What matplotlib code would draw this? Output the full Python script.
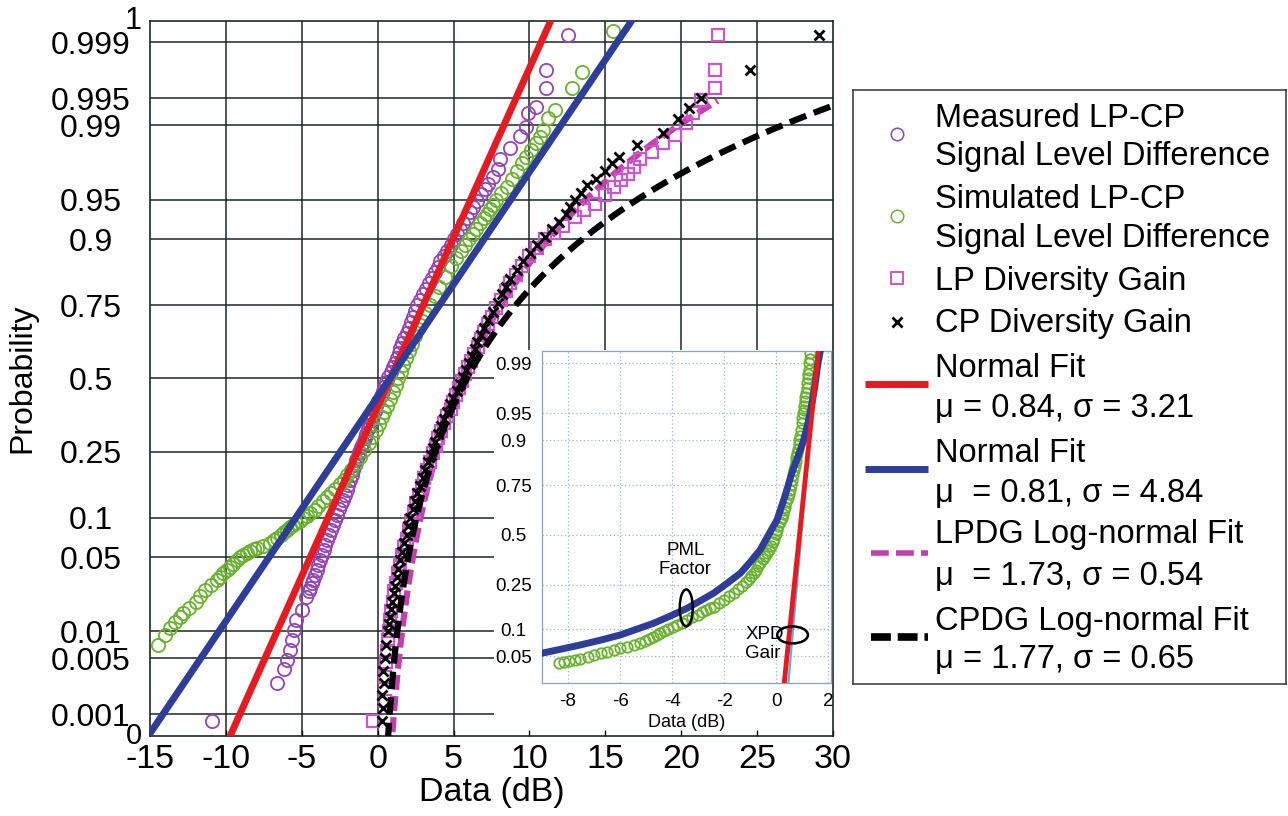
import numpy as np
import matplotlib
matplotlib.use("Agg")
import matplotlib.pyplot as plt
from matplotlib.patches import Ellipse, Rectangle
from matplotlib.transforms import blended_transform_factory
from statistics import NormalDist

plt.rcParams["font.family"] = ["Liberation Sans", "DejaVu Sans"]
plt.rcParams["axes.unicode_minus"] = False

# ---------------- data ----------------
prob_ticks = [0.001, 0.005, 0.01, 0.05, 0.1, 0.25, 0.5, 0.75, 0.9, 0.95, 0.99, 0.995, 0.999]
prob_tick_labels = ["0.001", "0.005", "0.01", "0.05", "0.1", "0.25", "0.5",
                    "0.75", "0.9", "0.95", "0.99", "0.995", "0.999"]
x_ticks = [-15, -10, -5, 0, 5, 10, 15, 20, 25, 30]

# measured LP-CP signal level difference (purple circles)
meas_p = [0.0008, 0.0025, 0.0037, 0.0048, 0.0062, 0.008, 0.0103, 0.013, 0.0165, 0.022,
          0.025, 0.027, 0.03, 0.032, 0.035, 0.039, 0.043, 0.047, 0.052, 0.057,
          0.063, 0.069, 0.075, 0.082, 0.089, 0.097, 0.105, 0.114, 0.123, 0.132,
          0.142, 0.153, 0.164, 0.176, 0.188, 0.2, 0.212, 0.225, 0.237, 0.25,
          0.263, 0.277, 0.291, 0.305, 0.32, 0.335, 0.35, 0.365, 0.382, 0.4,
          0.417, 0.435, 0.452, 0.47, 0.487, 0.505, 0.522, 0.54, 0.557, 0.575,
          0.592, 0.61, 0.627, 0.645, 0.662, 0.68, 0.697, 0.715, 0.732, 0.75,
          0.765, 0.78, 0.795, 0.81, 0.823, 0.835, 0.848, 0.86, 0.87, 0.88,
          0.89, 0.9, 0.908, 0.915, 0.923, 0.93, 0.937, 0.943, 0.949, 0.955,
          0.959, 0.963, 0.968, 0.973, 0.978, 0.983, 0.987, 0.9896, 0.9926, 0.9938,
          0.9962, 0.9977, 0.9992]
meas_x = [-10.9, -6.65, -6.2, -6.0, -5.8, -5.65, -5.5, -5.35, -5.0, -4.7,
          -4.55, -4.45, -4.35, -4.25, -4.12, -4.0, -3.9, -3.8, -3.67, -3.55,
          -3.45, -3.35, -3.2, -3.05, -2.92, -2.8, -2.68, -2.55, -2.42, -2.3,
          -2.18, -2.05, -1.95, -1.85, -1.72, -1.6, -1.5, -1.4, -1.3, -1.2,
          -1.08, -0.95, -0.85, -0.75, -0.62, -0.5, -0.4, -0.3, -0.2, -0.1,
          0.05, 0.2, 0.32, 0.45, 0.58, 0.7, 0.85, 1.0, 1.12, 1.25,
          1.38, 1.5, 1.62, 1.75, 1.9, 2.05, 2.2, 2.35, 2.48, 2.6,
          2.8, 3.0, 3.2, 3.4, 3.6, 3.8, 3.95, 4.1, 4.35, 4.6,
          4.8, 5.0, 5.2, 5.4, 5.65, 5.9, 6.1, 6.3, 6.55, 6.8,
          7.05, 7.3, 7.6, 7.9, 8.05, 8.7, 9.35, 9.8, 9.9, 10.45,
          11.1, 11.1, 12.55]

# simulated LP-CP signal level difference (green circles)
sim_p = [0.0071, 0.0091, 0.0108, 0.0126, 0.014, 0.0153, 0.0175, 0.0199, 0.0228, 0.0257,
         0.0285, 0.0318, 0.034, 0.0365, 0.039, 0.0415, 0.044, 0.047, 0.05, 0.052,
         0.054, 0.056, 0.058, 0.059, 0.061, 0.0645, 0.068, 0.071, 0.075, 0.079,
         0.082, 0.085, 0.088, 0.091, 0.095, 0.099, 0.103, 0.107, 0.113, 0.12,
         0.129, 0.138, 0.146, 0.155, 0.165, 0.175, 0.187, 0.2, 0.218, 0.236,
         0.255, 0.275, 0.296, 0.317, 0.338, 0.36, 0.38, 0.4, 0.425, 0.45,
         0.475, 0.5, 0.525, 0.55, 0.575, 0.6, 0.625, 0.65, 0.675, 0.7,
         0.725, 0.75, 0.775, 0.8, 0.825, 0.85, 0.865, 0.88, 0.89, 0.9,
         0.908, 0.915, 0.923, 0.93, 0.935, 0.94, 0.945, 0.95, 0.956, 0.961,
         0.967, 0.972, 0.976, 0.979, 0.982, 0.9847, 0.9868, 0.9888, 0.9916, 0.9932,
         0.9962, 0.9976, 0.9993]
sim_x = [-14.45, -14.0, -13.7, -13.35, -13.05, -12.8, -12.4, -12.0, -11.7, -11.4,
         -11.0, -10.6, -10.4, -10.2, -9.95, -9.75, -9.5, -9.3, -9.05, -8.85,
         -8.6, -8.4, -8.15, -7.95, -7.55, -7.1, -6.85, -6.65, -6.4, -6.2,
         -5.95, -5.75, -5.55, -5.35, -5.1, -4.9, -4.65, -4.45, -4.15, -3.9,
         -3.6, -3.35, -3.05, -2.8, -2.5, -2.25, -2.0, -1.75, -1.45, -1.15,
         -0.88, -0.6, -0.35, -0.1, 0.1, 0.3, 0.45, 0.6, 0.8, 1.0,
         1.18, 1.35, 1.52, 1.7, 1.88, 2.05, 2.25, 2.45, 2.68, 2.9,
         3.15, 3.45, 3.75, 4.05, 4.45, 4.85, 5.15, 5.5, 5.75, 6.0,
         6.25, 6.5, 6.75, 7.0, 7.2, 7.4, 7.6, 7.8, 8.15, 8.5,
         8.85, 9.15, 9.5, 9.8, 10.1, 10.45, 10.7, 10.9, 11.25, 11.7,
         12.8, 13.45, 15.5]

# LP diversity gain (magenta squares)
lp_p = [0.0008, 0.0015, 0.003, 0.0045, 0.006, 0.008, 0.01, 0.013, 0.016, 0.02,
        0.025, 0.03, 0.037, 0.044, 0.052, 0.06, 0.07, 0.082, 0.095, 0.11,
        0.125, 0.142, 0.16, 0.18, 0.2, 0.222, 0.245, 0.267, 0.29, 0.315,
        0.34, 0.365, 0.39, 0.415, 0.44, 0.465, 0.49, 0.515, 0.54, 0.565,
        0.59, 0.615, 0.64, 0.665, 0.69, 0.715, 0.74, 0.765, 0.79, 0.81,
        0.83, 0.85, 0.87, 0.885, 0.9, 0.91, 0.92, 0.931, 0.939, 0.946,
        0.954, 0.961, 0.966, 0.97, 0.974, 0.978, 0.9815, 0.9847, 0.9874, 0.9905,
        0.9926, 0.9948, 0.9962, 0.9977, 0.9992]
lp_x = [-0.3, 0.5, 0.5, 0.55, 0.6, 0.68, 0.75, 0.82, 0.9, 1.0,
        1.1, 1.22, 1.35, 1.47, 1.6, 1.75, 1.9, 2.05, 2.2, 2.38,
        2.55, 2.72, 2.9, 3.08, 3.25, 3.45, 3.65, 3.82, 4.0, 4.2,
        4.4, 4.6, 4.8, 4.98, 5.15, 5.35, 5.55, 5.75, 5.95, 6.15,
        6.35, 6.58, 6.8, 7.02, 7.25, 7.5, 7.8, 8.1, 8.45, 8.75,
        9.1, 9.5, 10.0, 10.5, 11.0, 11.6, 12.2, 13.0, 13.6, 14.3,
        14.95, 15.6, 16.05, 16.5, 16.9, 17.3, 18.1, 18.8, 19.6, 20.3,
        20.8, 21.3, 22.2, 22.2, 22.4]

# CP diversity gain (black crosses)
cp_p = [0.0008, 0.0012, 0.0018, 0.0025, 0.0035, 0.005, 0.007, 0.01, 0.012, 0.014,
        0.017, 0.02, 0.024, 0.028, 0.034, 0.04, 0.047, 0.055, 0.065, 0.075,
        0.087, 0.1, 0.115, 0.13, 0.145, 0.16, 0.18, 0.2, 0.22, 0.24,
        0.26, 0.28, 0.305, 0.33, 0.355, 0.38, 0.405, 0.43, 0.455, 0.48,
        0.505, 0.53, 0.555, 0.58, 0.605, 0.63, 0.655, 0.68, 0.705, 0.73,
        0.755, 0.78, 0.8, 0.82, 0.84, 0.86, 0.875, 0.89, 0.903, 0.915,
        0.925, 0.935, 0.943, 0.95, 0.956, 0.962, 0.967, 0.972, 0.976, 0.979,
        0.984, 0.988, 0.9915, 0.9935, 0.995, 0.9977, 0.9992]
cp_x = [0.3, 0.35, 0.3, 0.4, 0.35, 0.5, 0.55, 0.7, 0.75, 0.8,
        0.88, 0.95, 1.05, 1.15, 1.25, 1.35, 1.48, 1.6, 1.75, 1.9,
        2.02, 2.15, 2.3, 2.45, 2.62, 2.8, 2.98, 3.15, 3.32, 3.5,
        3.65, 3.8, 4.0, 4.2, 4.4, 4.6, 4.78, 4.95, 5.2, 5.45,
        5.62, 5.8, 6.0, 6.2, 6.38, 6.55, 6.78, 7.0, 7.3, 7.6,
        7.9, 8.2, 8.47, 8.75, 9.15, 9.6, 10.05, 10.5, 11.0, 11.5,
        11.95, 12.4, 12.7, 13.0, 13.4, 13.8, 14.4, 15.0, 15.45, 15.9,
        17.1, 18.8, 19.8, 20.5, 21.3, 24.5, 29.1]

# fitted distributions (from the legend)
meas_mu, meas_sigma = 0.84, 3.21
sim_mu, sim_sigma = 0.81, 4.84
lpdg_mu, lpdg_sigma = 1.73, 0.54
cpdg_mu, cpdg_sigma = 1.77, 0.65

# inset
inset_prob_ticks = [0.05, 0.1, 0.25, 0.5, 0.75, 0.9, 0.95, 0.99]
inset_prob_labels = ["0.05", "0.1", "0.25", "0.5", "0.75", "0.9", "0.95", "0.99"]
inset_x_ticks = [-8, -6, -4, -2, 0, 2]

xpd_p = [0.041, 0.0425, 0.044, 0.0455, 0.047, 0.0495, 0.052, 0.0545, 0.057, 0.0595,
         0.062, 0.065, 0.068, 0.0715, 0.075, 0.079, 0.083, 0.087, 0.0914, 0.0955,
         0.1, 0.105, 0.11, 0.117, 0.125, 0.132, 0.14, 0.147, 0.155, 0.16,
         0.166, 0.178, 0.19, 0.202, 0.215, 0.23, 0.245, 0.26, 0.275, 0.288,
         0.302, 0.318, 0.335, 0.352, 0.37, 0.386, 0.402, 0.42, 0.44, 0.46,
         0.48, 0.503, 0.527, 0.548, 0.57, 0.59, 0.61, 0.63, 0.649, 0.67,
         0.69, 0.71, 0.73, 0.75, 0.772, 0.79, 0.81, 0.825, 0.84, 0.853,
         0.866, 0.878, 0.89, 0.9, 0.91, 0.923, 0.935, 0.943, 0.95, 0.955,
         0.96, 0.965, 0.9695, 0.973, 0.977, 0.98, 0.983, 0.9853, 0.9873, 0.99,
         0.9915, 0.993]
xpd_x = [-8.36, -8.15, -7.95, -7.75, -7.53, -7.25, -7.0, -6.75, -6.5, -6.25,
         -6.0, -5.75, -5.48, -5.25, -5.05, -4.9, -4.75, -4.6, -4.45, -4.3,
         -4.15, -3.98, -3.8, -3.62, -3.43, -3.22, -3.0, -2.85, -2.7, -2.55,
         -2.41, -2.2, -2.0, -1.82, -1.64, -1.47, -1.3, -1.17, -1.05, -0.96,
         -0.87, -0.78, -0.7, -0.61, -0.52, -0.44, -0.36, -0.28, -0.2, -0.14,
         -0.08, -0.03, 0.025, 0.08, 0.14, 0.2, 0.25, 0.3, 0.34, 0.39,
         0.43, 0.48, 0.52, 0.56, 0.6, 0.64, 0.68, 0.71, 0.74, 0.765,
         0.79, 0.825, 0.86, 0.89, 0.92, 0.95, 0.98, 1.005, 1.03, 1.05,
         1.07, 1.09, 1.11, 1.135, 1.16, 1.18, 1.2, 1.22, 1.24, 1.27,
         1.285, 1.30]

pml_x = [-9.0, -8.25, -7.53, -6.75, -5.99, -5.35, -4.71, -4.07, -3.43, -2.92,
         -2.41, -1.9, -1.38, -1.0, -0.62, -0.3, 0.025, 0.33, 0.60, 0.85,
         1.05, 1.22, 1.37, 1.48, 1.58, 1.69]
pml_p = [0.0545, 0.061, 0.068, 0.077, 0.0877, 0.101, 0.1157, 0.136, 0.160, 0.186,
         0.215, 0.255, 0.302, 0.357, 0.42, 0.5, 0.58, 0.70, 0.80, 0.86,
         0.90, 0.936, 0.963, 0.978, 0.9887, 0.9937]

inset_red_x = [0.29, 1.64]
inset_red_p = [0.02, 0.995]
inset_cyan_x = [0.45, 1.60]
inset_cyan_p = [0.02, 0.995]

# ---------------- helpers ----------------
_nd = NormalDist()


def probit(p):
    return np.array([_nd.inv_cdf(v) for v in p])


W, H = 1288, 816


def box(left, top, right, bottom):
    return [left / W, 1 - bottom / H, (right - left) / W, (bottom - top) / H]


RED = "#e51b22"
BLUE = "#2d3d98"
PURPLE = "#9444b6"
GREEN = "#68b22e"
MAGENTA = "#cc55cc"
MAG_DASH = "#c23fae"
GRID = "#1b2727"

fig = plt.figure(figsize=(W / 100, H / 100), dpi=100)

# ---------------- main probability plot ----------------
ax = fig.add_axes(box(150, 20.7, 833, 736))
zlo, zhi = probit([0.0005, 0.9995])
ax.set_xlim(-15, 30)
ax.set_ylim(zlo, zhi)

ax.vlines(x_ticks[1:-1], zlo, zhi, colors=GRID, lw=1.1, zorder=0.8)
ax.hlines(probit(prob_ticks), -15, 30, colors=GRID, lw=1.1, zorder=0.8)
# white area behind the inset
ax.add_patch(Rectangle((0.504, 0), 0.496, 0.54, transform=ax.transAxes,
                       fc="white", ec="none", zorder=1))

xg = np.geomspace(0.3, max(lp_x), 200)
ax.plot(xg, (np.log(xg) - lpdg_mu) / lpdg_sigma, color=MAG_DASH, lw=4.5,
        dashes=(2.4, 1.0), zorder=1.9)

ax.plot(meas_x, probit(meas_p), ls="none", marker="o", ms=9.5, mfc="none",
        mec=PURPLE, mew=1.3, zorder=2)
ax.plot(sim_x, probit(sim_p), ls="none", marker="o", ms=9.5, mfc="none",
        mec=GREEN, mew=1.3, zorder=2.1)
ax.plot(lp_x, probit(lp_p), ls="none", marker="s", ms=8.5, mfc="none",
        mec=MAGENTA, mew=1.6, zorder=2.2)
ax.plot(cp_x, probit(cp_p), ls="none", marker="x", ms=7.5, mec="black", mew=2, zorder=2.6)

xg = np.geomspace(0.3, 30, 200)
ax.plot(xg, (np.log(xg) - cpdg_mu) / cpdg_sigma, color="black", lw=4.5,
        dashes=(2.8, 1.3), zorder=3.5)

zz = np.array([zlo, zhi])
ax.plot(meas_mu + meas_sigma * zz, zz, color=RED, lw=5, zorder=4)
ax.plot(sim_mu + sim_sigma * zz, zz, color=BLUE, lw=5, zorder=4.1)

ax.set_xticks(x_ticks)
ax.set_xticklabels([str(v) for v in x_ticks])
ax.tick_params(axis="x", direction="in", length=4, width=1, color="black",
               labelsize=24.5, pad=6)
ax.set_yticks(probit(prob_ticks))
ax.set_yticklabels(prob_tick_labels)
ax.tick_params(axis="y", length=0, labelsize=23, pad=42.5)
plt.setp(ax.get_yticklabels(), ha="center")

trans = blended_transform_factory(ax.transAxes, ax.transData)
ax.text(-0.025, zhi, "1", transform=trans, ha="center", va="center", fontsize=22)
ax.text(-0.024, zlo, "0", transform=trans, ha="center", va="center", fontsize=21)

ax.set_xlabel("Data (dB)", fontsize=24.5)
ax.xaxis.set_label_coords(0.5, -0.058)
ax.set_ylabel("Probability", fontsize=23)
ax.yaxis.set_label_coords(-0.187, 0.5)
ax.yaxis.label.set_verticalalignment("center")

for s in ax.spines.values():
    s.set_color(GRID)
    s.set_linewidth(1.2)

# ---------------- inset ----------------
axi = fig.add_axes(box(542, 350.7, 831, 683.3))
axi.set_xlim(-9, 2.1)
axi.set_ylim(*probit([0.0222, 0.9937]))
axi.set_xticks(inset_x_ticks)
axi.set_xticklabels([str(v) for v in inset_x_ticks])
axi.set_yticks(probit(inset_prob_ticks))
axi.set_yticklabels(inset_prob_labels)
axi.tick_params(length=0, labelsize=13.5)
axi.tick_params(axis="y", pad=20.7)
axi.tick_params(axis="x", pad=7)
plt.setp(axi.get_yticklabels(), ha="center")
axi.grid(True, ls=(0, (1, 2)), color="#9ab3cf", lw=0.9)
for s in axi.spines.values():
    s.set_color("#8da2b8")
    s.set_linewidth(0.9)
axi.set_xlabel("Data (dB)", fontsize=13)
axi.xaxis.set_label_coords(0.5, -0.092)

axi.plot(xpd_x, probit(xpd_p), ls="none", marker="o", ms=7.5, mfc="none",
         mec=GREEN, mew=1.3, zorder=2)
axi.plot(pml_x, probit(pml_p), color=BLUE, lw=5, zorder=3)
axi.plot(inset_cyan_x, probit(inset_cyan_p), color="#5aaee8", lw=1.6, zorder=3.5)
axi.plot(inset_red_x, probit(inset_red_p), color=RED, lw=3.5, zorder=4)

axi.add_patch(Ellipse((-3.46, -0.989), 0.5, 0.5, fill=False, ec="black", lw=1.8, zorder=5))
axi.add_patch(Ellipse((0.624, -1.355), 1.18, 0.23, fill=False, ec="black", lw=1.8, zorder=5))
axi.text(-3.49, -0.339, "PML\nFactor", ha="center", va="center", fontsize=13.5, zorder=6)
axi.text(-1.19, -1.477, "XPD\nGair", ha="left", va="center", fontsize=13.5, zorder=6)

# ---------------- legend ----------------
axl = fig.add_axes(box(853, 90, 1286, 684))
axl.set_xlim(0, 433)
axl.set_ylim(594, 0)
axl.set_xticks([])
axl.set_yticks([])
for s in axl.spines.values():
    s.set_color("#333333")
    s.set_linewidth(1.1)

legend_lines = [
    "Measured LP-CP", "Signal Level Difference",
    "Simulated LP-CP", "Signal Level Difference",
    "LP Diversity Gain",
    "CP Diversity Gain",
    "Normal Fit", f"\u03bc = {meas_mu:.2f}, \u03c3 = {meas_sigma:.2f}",
    "Normal Fit", f"\u03bc  = {sim_mu:.2f}, \u03c3 = {sim_sigma:.2f}",
    "LPDG Log-normal Fit", f"\u03bc  = {lpdg_mu:.2f}, \u03c3 = {lpdg_sigma:.2f}",
    "CPDG Log-normal Fit", f"\u03bc = {cpdg_mu:.2f}, \u03c3 = {cpdg_sigma:.2f}",
]
baselines = [36.7, 75, 118.3, 156.7, 200, 241.7, 286.7, 326.7,
             371.7, 411.7, 453.3, 495, 540, 578.3]
for txt, yb in zip(legend_lines, baselines):
    axl.text(82, yb, txt, ha="left", va="baseline", fontsize=23.5)

axl.plot([43.7], [44.3], marker="o", ms=9, mfc="none", mec=PURPLE, mew=1.1)
axl.plot([43.7], [126], marker="o", ms=9, mfc="none", mec=GREEN, mew=1.1)
axl.plot([43.7], [188.3], marker="s", ms=8.5, mfc="none", mec=MAGENTA, mew=1.4)
axl.plot([43.7], [231.7], marker="x", ms=7, mec="black", mew=2)
axl.plot([12, 75], [294, 294], color=RED, lw=5, solid_capstyle="butt")
axl.plot([12, 75], [379.3, 379.3], color=BLUE, lw=5, solid_capstyle="butt")
axl.plot([18, 75], [462.7, 462.7], color=MAG_DASH, lw=4, dashes=(3.2, 1.3))
axl.plot([18, 75], [547.3, 547.3], color="black", lw=5.5, dashes=(2.6, 0.9))

fig.savefig("out.png", dpi=100)
